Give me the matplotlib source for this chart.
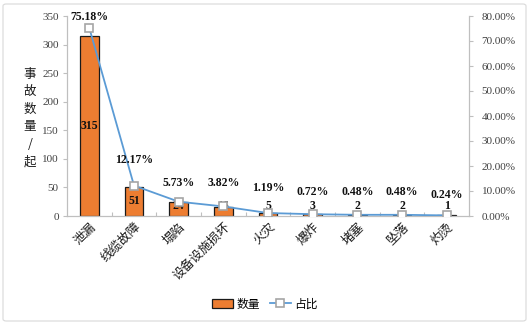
import matplotlib
matplotlib.use("Agg")
import matplotlib.pyplot as plt
from matplotlib.patches import FancyBboxPatch
from matplotlib.lines import Line2D
from matplotlib.patches import Patch
from matplotlib.ticker import FuncFormatter, MultipleLocator

categories = ["泄漏", "线缆故障", "塌陷", "设备设施损坏", "火灾", "爆炸", "堵塞", "坠落", "灼烫"]
counts = [315, 51, 24, 16, 5, 3, 2, 2, 1]
shares = [75.18, 12.17, 5.73, 3.82, 1.19, 0.72, 0.48, 0.48, 0.24]

# label offsets above markers (pixels)
pct_label_offsets = [11, 25.6, 18.7, 23.5, 25, 22.6, 22.8, 22.8, 20.6]

cjk = ["Noto Sans CJK SC", "DejaVu Sans"]
serif = ["Liberation Serif", "DejaVu Serif"]

fig = plt.figure(figsize=(5.30, 3.24), dpi=100)
fig.patch.set_facecolor("white")
border = FancyBboxPatch((3/530, 3/324), 523/530, 317/324,
                        boxstyle="round,pad=0,rounding_size=0.006",
                        transform=fig.transFigure, facecolor="none",
                        edgecolor="#d9d9d9", linewidth=0.8, zorder=-5)
fig.patches.append(border)

ax = fig.add_axes([67/530, 108/324, 402/530, 200/324])
ax2 = ax.twinx()

x = list(range(len(categories)))
ax.bar(x, counts, width=0.42, color="#ED7D31", edgecolor="#1a1a1a", linewidth=0.9, zorder=2)
ax.set_xlim(-0.5, len(categories) - 0.5)
ax.set_ylim(0, 350)
ax.yaxis.set_major_locator(MultipleLocator(50))

for xi, v in zip(x, counts):
    ax.text(xi, max(v / 2, 18), str(v), ha="center", va="center",
            fontsize=8.5, fontweight="bold", family=serif, color="#111111", zorder=5)

ax2.plot(x, shares, color="#5B9BD5", linewidth=1.3, marker="s", markersize=5.5,
         markerfacecolor="white", markeredgecolor="#a5a5a5", markeredgewidth=1.2, zorder=4)
ax2.set_ylim(0, 80)
ax2.yaxis.set_major_locator(MultipleLocator(10))
ax2.yaxis.set_major_formatter(FuncFormatter(lambda v, p: f"{v:.2f}%"))

for xi, p, off in zip(x, shares, pct_label_offsets):
    ax2.annotate(f"{p:.2f}%", (xi, p), xytext=(0, off * 0.72), textcoords="offset points",
                 ha="center", va="center", fontsize=8.5, fontweight="bold",
                 family=serif, color="#111111", zorder=6)

for a in (ax, ax2):
    for s in a.spines.values():
        s.set_color("#bfbfbf")
        s.set_linewidth(0.8)
    a.spines["top"].set_visible(False)
    a.tick_params(axis="y", colors="#bfbfbf", labelcolor="#404040", length=3, width=0.8,
                  labelsize=8)
    for lab in a.get_yticklabels():
        lab.set_family(serif)
    a.set_facecolor("none")

ax.set_xticks(x)
ax.set_xticks([i + 0.5 for i in x[:-1]], minor=True)
ax.tick_params(axis="x", which="major", length=0, pad=3)
ax.tick_params(axis="x", which="minor", direction="in", length=3, width=0.8, colors="#bfbfbf")
ax.set_xticklabels(categories, rotation=45, ha="right", va="top",
                   rotation_mode="anchor", fontsize=9, family=cjk, color="#1a1a1a")
ax2.tick_params(axis="y", pad=6)
ax.tick_params(axis="y", pad=3)

fig.text(30/530, 1 - 118/324, "事\n故\n数\n量\n/\n起", ha="center", va="center",
         fontsize=9, family=cjk, color="#1a1a1a", linespacing=1.45)

handles = [Patch(facecolor="#ED7D31", edgecolor="#1a1a1a", linewidth=0.9),
           Line2D([0], [0], color="#5B9BD5", linewidth=1.3, marker="s", markersize=5.5,
                  markerfacecolor="white", markeredgecolor="#a5a5a5", markeredgewidth=1.2)]
fig.legend(handles, ["数量", "占比"], loc="center", bbox_to_anchor=(265/530, 20/324),
           ncol=2, frameon=False, prop={"family": cjk, "size": 8.5},
           handlelength=1.8, handleheight=0.7, columnspacing=0.8, handletextpad=0.3)

fig.savefig("out.png", dpi=100, facecolor="white")
